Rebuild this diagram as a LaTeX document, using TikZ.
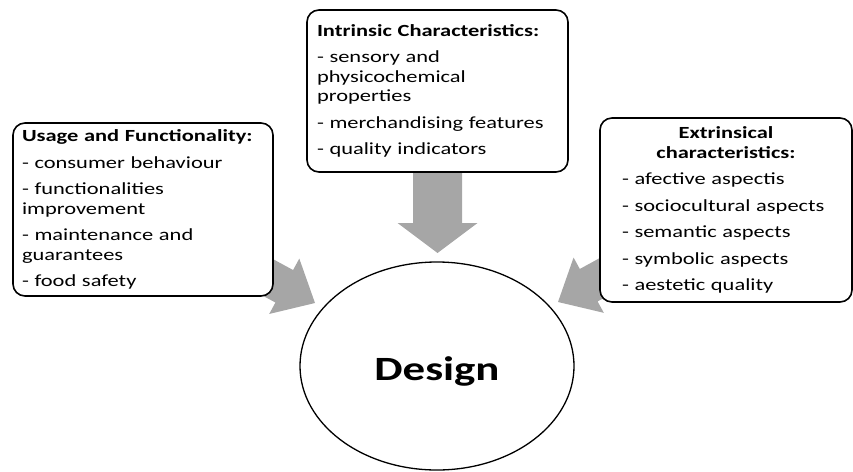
\documentclass[tikz,border=0pt]{standalone}
\usepackage{fontspec}
\setmainfont{Carlito}[FakeStretch=1.32]
\usepackage{tikz}
\usetikzlibrary{positioning,calc,shapes.geometric,backgrounds}
\definecolor{arrowgray}{RGB}{166,166,166}

% fat grey arrow: tail, tip, shaft half width, head half width, head length
\newcommand{\fatarrow}[5]{%
  \fill[arrowgray] ($(#1)!#3!90:(#2)$)
    -- ($(#2)!#5!(#1)!#3!90:(#2)$)
    -- ($(#2)!#5!(#1)!#4!90:(#2)$)
    -- (#2)
    -- ($(#2)!#5!(#1)!#4!-90:(#2)$)
    -- ($(#2)!#5!(#1)!#3!-90:(#2)$)
    -- ($(#1)!#3!-90:(#2)$) -- cycle;}

\begin{document}
\begin{tikzpicture}[
  x=1pt, y=-1pt,
  every node/.style={font=\fontsize{17}{19.5}\selectfont},
  box/.style={draw, line width=1.6pt, rounded corners=12pt, fill=white, align=left, inner ysep=0pt},
  core/.style={draw, ellipse, line width=1.3pt, minimum width=274pt, minimum height=208pt, inner sep=0pt, font=\fontsize{34}{40}\selectfont\bfseries}
]
\useasboundingbox (0,0) rectangle (853,471);

\node[box, text width=242pt, inner xsep=9pt, minimum height=173pt] (usage) at (143,209.5)
  {\textbf{Usage and Functionality:}\\[7pt]
   - consumer behaviour\\[7pt]
   - functionalities\\ improvement\\[7pt]
   - maintenance and\\ guarantees\\[7pt]
   - food safety};
\node[box, text width=241pt, inner xsep=10pt, minimum height=162pt] (intr) at (437.5,91)
  {\textbf{Intrinsic Characteristics:}\\[7pt]
   - sensory and\\ physicochemical\\ properties\\[7pt]
   - merchandising features\\[7pt]
   - quality indicators};
\node[box, text width=208pt, inner xsep=22pt, minimum height=184pt] (extr) at (726,210)
  {\makebox[208pt][c]{\bfseries Extrinsical}\\
   \makebox[208pt][c]{\bfseries characteristics:}\\[7pt]
   - afective aspectis\\[7pt]
   - sociocultural aspects\\[7pt]
   - semantic aspects\\[7pt]
   - symbolic aspects\\[7pt]
   - aestetic quality};
\node[core, text height=30pt, text depth=2pt] (design) at (437,366) {Design};

\coordinate (usetip) at (315,303);
\coordinate (intrtip) at (437.5,253);
\coordinate (extrtip) at (558,302);

\begin{scope}[on background layer]
\fatarrow{intr}{intrtip}{24.5pt}{40pt}{30pt}
\fatarrow{usage}{usetip}{18.5pt}{31.5pt}{35pt}
\fatarrow{extr}{extrtip}{18.5pt}{31.5pt}{35pt}
\end{scope}
\end{tikzpicture}
\end{document}
